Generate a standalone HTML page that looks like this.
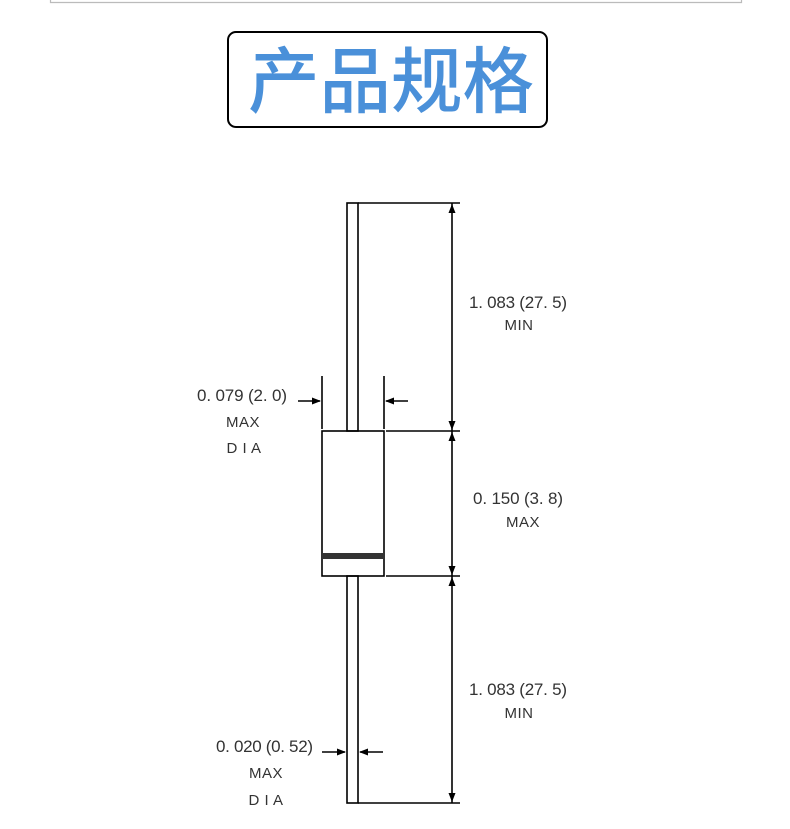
<!DOCTYPE html>
<html><head><meta charset="utf-8"><style>
html,body{margin:0;padding:0;background:#fff;width:790px;height:829px;overflow:hidden}
</style></head><body>
<svg width="790" height="829" xmlns="http://www.w3.org/2000/svg" style="position:absolute;left:0;top:0">
<path d="M50.5 0 V2.5 H741.5 V0" fill="none" stroke="#bbb" stroke-width="1.2"/>
<rect x="228" y="32" width="319" height="95" rx="8" fill="#fff" stroke="#000" stroke-width="2"/>
<text x="391" y="107" text-anchor="middle" font-family="'Noto Sans CJK SC',sans-serif" font-weight="500" font-size="72" fill="#4a90d9" textLength="286" lengthAdjust="spacingAndGlyphs">产品规格</text>
<g stroke="#000" stroke-width="1.6" fill="none">
<rect x="347" y="203" width="11" height="228"/>
<rect x="322" y="431" width="62" height="145"/>
<rect x="347" y="576" width="11" height="227"/>
<line x1="358" y1="203" x2="460" y2="203"/>
<line x1="386" y1="431" x2="460" y2="431"/>
<line x1="386" y1="576" x2="460" y2="576"/>
<line x1="358" y1="803" x2="460" y2="803"/>
<line x1="452" y1="203" x2="452" y2="803"/>
<line x1="322" y1="376" x2="322" y2="429"/>
<line x1="384" y1="376" x2="384" y2="429"/>
<line x1="298" y1="401" x2="320" y2="401"/>
<line x1="386" y1="401" x2="408" y2="401"/>
<line x1="322" y1="752" x2="345" y2="752"/>
<line x1="360" y1="752" x2="383" y2="752"/>
</g>
<rect x="322" y="553" width="62" height="6" fill="#333"/>
<g fill="#000">
<path d="M452 204 l-3.5 9 h7z"/><path d="M452 430 l-3.5 -9 h7z"/>
<path d="M452 432 l-3.5 9 h7z"/><path d="M452 575 l-3.5 -9 h7z"/>
<path d="M452 577 l-3.5 9 h7z"/><path d="M452 802 l-3.5 -9 h7z"/>
<path d="M321 401 l-9 -3.5 v7z"/><path d="M385 401 l9 -3.5 v7z"/>
<path d="M346 752 l-9 -3.5 v7z"/><path d="M359 752 l9 -3.5 v7z"/>
</g>
<g font-family="'Liberation Sans',sans-serif" font-size="17" fill="#333" lengthAdjust="spacingAndGlyphs">
<text x="469" y="308" textLength="98">1. 083 (27. 5)</text>
<text x="473" y="504" textLength="90">0. 150 (3. 8)</text>
<text x="469" y="695" textLength="98">1. 083 (27. 5)</text>
<text x="197" y="401" textLength="90">0. 079 (2. 0)</text>
<text x="216" y="752" textLength="97">0. 020 (0. 52)</text>
</g>
<g font-family="'Liberation Sans',sans-serif" font-size="15" fill="#333" text-anchor="middle" letter-spacing="0.5">
<text x="519" y="330">MIN</text>
<text x="523" y="527">MAX</text>
<text x="519" y="718">MIN</text>
<text x="243" y="427">MAX</text><text x="244" y="453">D I A</text>
<text x="266" y="778">MAX</text><text x="266" y="805">D I A</text>
</g>
</svg>
</body></html>
